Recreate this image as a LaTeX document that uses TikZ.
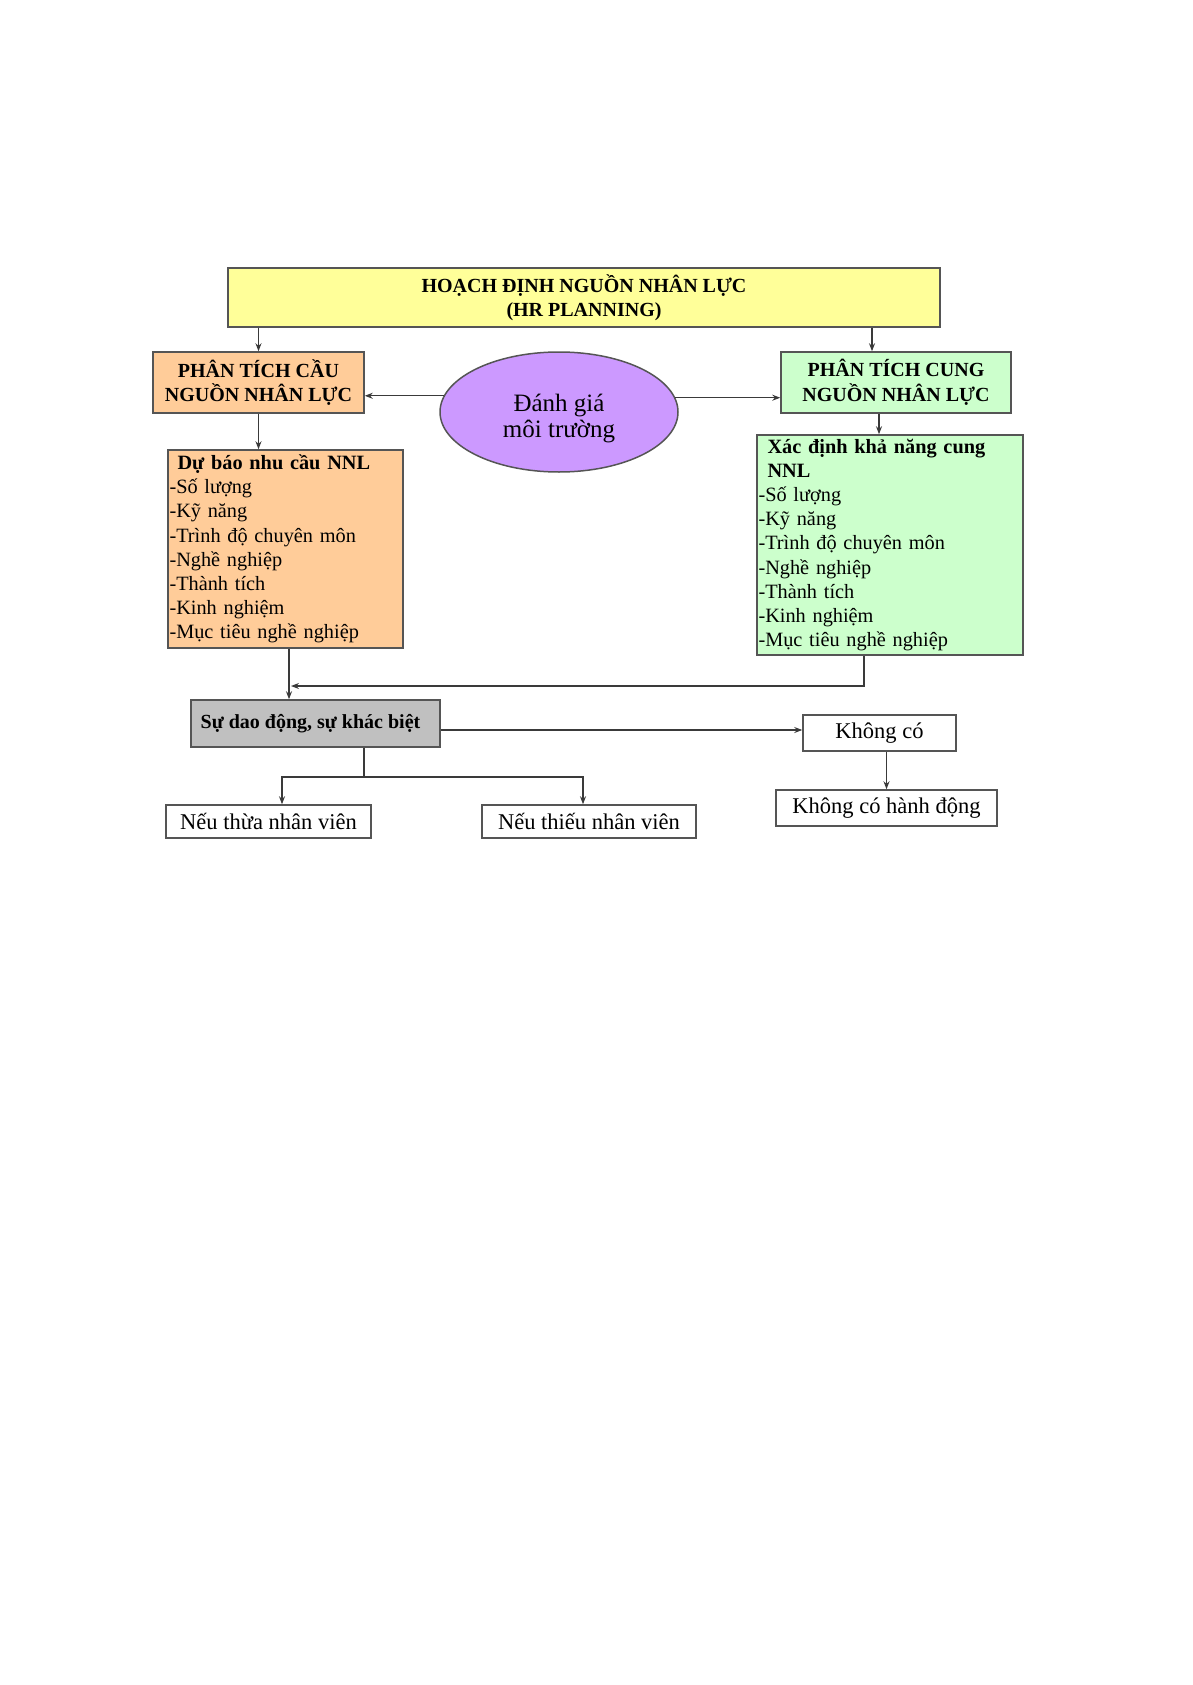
\documentclass[tikz,border=0pt]{standalone}
\usepackage{fontspec}
\setmainfont{Liberation Serif}
\usetikzlibrary{arrows.meta,shapes.geometric,calc}
\definecolor{yellowc}{HTML}{FFFF99}
\definecolor{orangec}{HTML}{FFCC99}
\definecolor{greenc}{HTML}{CCFFCC}
\definecolor{purplec}{HTML}{CC99FF}
\definecolor{grayc}{HTML}{C0C0C0}
\definecolor{bordc}{HTML}{555555}
\definecolor{linec}{HTML}{3A3A3A}
\begin{document}
\begin{tikzpicture}[x=1pt,y=-1pt,
  box/.style={draw=bordc, line width=1.5pt, inner sep=0pt, align=center},
  hdr/.style={box, font=\fontsize{20}{24.5}\selectfont\bfseries},
  small/.style={box, font=\fontsize{22.5}{26}\selectfont},
  list/.style={box, align=left, inner xsep=1.5pt, font=\fontsize{20.3}{24.2}\selectfont},
  arr/.style={draw=linec, line width=1.2pt, -{Stealth[length=8pt,width=6pt]}},
  ln/.style={draw=linec, line width=1.2pt}
]
\useasboundingbox (0,0) rectangle (1192,1685);

% nodes
\node[hdr, fill=yellowc, minimum width=712pt, minimum height=59pt] (plan) at (584,297.5)
  {HOẠCH ĐỊNH NGUỒN NHÂN LỰC\\(HR PLANNING)};
\node[hdr, fill=orangec, minimum width=211pt, minimum height=61pt] (lbox) at (258.5,382.5)
  {PHÂN TÍCH CẦU\\NGUỒN NHÂN LỰC};
\node[hdr, fill=greenc, minimum width=230pt, minimum height=61pt] (gbox) at (896,382.5)
  {PHÂN TÍCH CUNG\\NGUỒN NHÂN LỰC};
\node[draw=bordc, line width=1.5pt, fill=purplec, ellipse, minimum width=238pt, minimum height=120pt,
  inner sep=0pt, align=center, font=\fontsize{25}{26.5}\selectfont] (env) at (559,412)
  {\rule{0pt}{30pt}Đánh giá\\môi trường};
\node[list, fill=orangec, minimum width=235pt, minimum height=198pt, text width=232pt] (obig) at (285.5,549)
  {\hspace*{8pt}\textbf{Dự báo nhu cầu NNL}\\-Số lượng\\-Kỹ năng\\-Trình độ chuyên môn\\-Nghề nghiệp\\-Thành tích\\-Kinh nghiệm\\-Mục tiêu nghề nghiệp};
\node[list, fill=greenc, minimum width=266pt, minimum height=220pt, text width=263pt] (gbig) at (890,545)
  {\hspace*{9pt}\textbf{Xác định khả năng cung}\\\hspace*{9pt}\textbf{NNL}\\-Số lượng\\-Kỹ năng\\-Trình độ chuyên môn\\-Nghề nghiệp\\-Thành tích\\-Kinh nghiệm\\-Mục tiêu nghề nghiệp};
\node[hdr, fill=grayc, minimum width=249pt, minimum height=47pt] (gray) at (315.5,723.5)
  {\hspace*{-10pt}Sự dao động, sự khác biệt};
\node[small, fill=white, minimum width=153pt, minimum height=36pt] (khongco) at (879.5,733) {Không có};
\node[small, fill=white, minimum width=221pt, minimum height=36pt] (khhd) at (886.5,808) {Không có hành động};
\node[small, fill=white, minimum width=205pt, minimum height=33pt] (thua) at (268.5,821.5) {Nếu thừa nhân viên};
\node[small, fill=white, minimum width=214pt, minimum height=33pt] (thieu) at (589,821.5) {Nếu thiếu nhân viên};

\coordinate (join) at (291,686);
\coordinate (split) at (364,777);

% connectors
\draw[arr] (lbox.north |- plan.south) -- (lbox.north);
\draw[arr] ([xshift=-24pt]gbox.north |- plan.south) -- ([xshift=-24pt]gbox.north);
\draw[arr] (env.172.6) -- (env.172.6 -| lbox.east);
\draw[arr] (env.7.4) -- (env.7.4 -| gbox.west);
\draw[arr] (lbox.south) -- (lbox.south |- obig.north);
\draw[arr] ([xshift=-17pt]gbox.south) -- ([xshift=-17pt]gbox.south |- gbig.north);
\draw[arr] ([xshift=3.5pt]obig.south) -- ([xshift=3.5pt]obig.south |- gray.north);
\draw[arr] ([xshift=-26pt]gbig.south) |- (join);
\draw[arr] ([yshift=3pt]khongco.west -| gray.east) -- ([yshift=3pt]khongco.west);
\draw[arr] (khongco.south -| khhd.north) -- (khhd.north);
\draw[ln] ([xshift=48.5pt]gray.south) -- (split);
\draw[arr] (split) -| ([xshift=13.5pt]thua.north);
\draw[arr] (split) -| ([xshift=-6pt]thieu.north);
\end{tikzpicture}
\end{document}
